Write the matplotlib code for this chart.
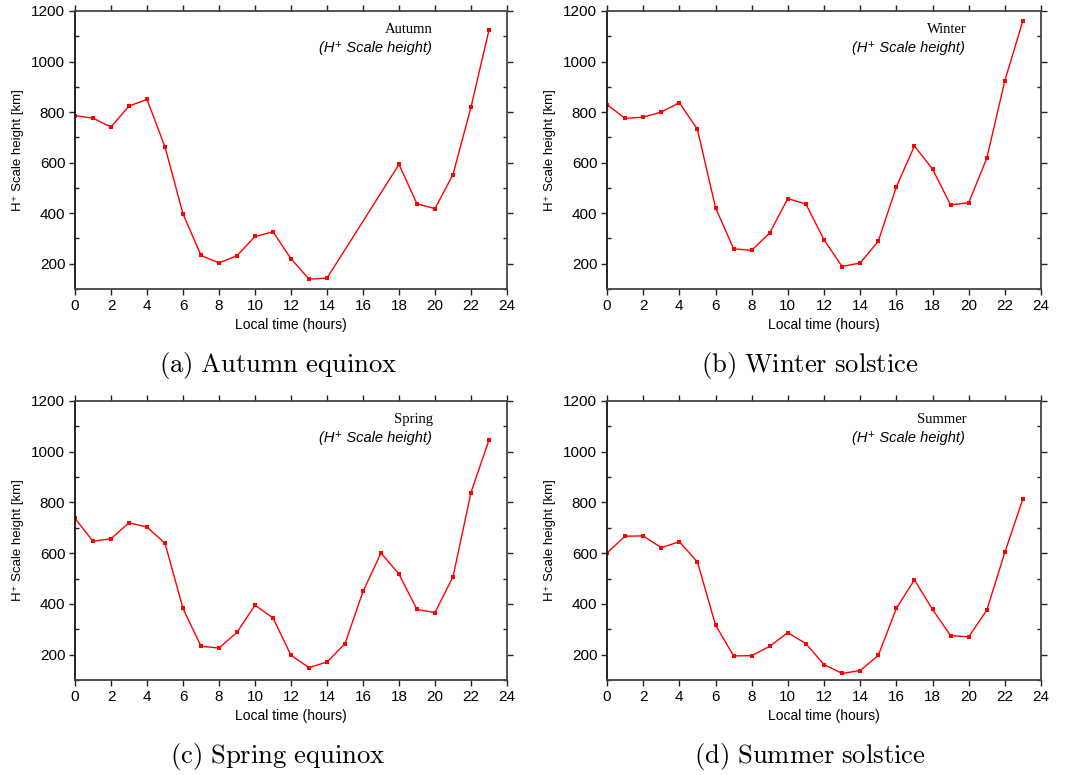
import matplotlib
matplotlib.use("Agg")
import matplotlib.pyplot as plt
from matplotlib.ticker import MultipleLocator

plt.rcParams['mathtext.fontset'] = 'cm'
plt.rcParams['font.family'] = ['Liberation Sans', 'DejaVu Sans']

hours = list(range(24))
autumn_hours = [0, 1, 2, 3, 4, 5, 6, 7, 8, 9, 10, 11, 12, 13, 14, 18, 19, 20, 21, 22, 23]
autumn = [786, 776, 741, 824, 850, 662, 397, 233, 203, 232, 308, 326, 220, 139, 143,
          593, 437, 418, 553, 820, 1125]
winter = [830, 775, 780, 800, 837, 732, 422, 259, 253, 322, 458, 436, 295, 189, 203,
          289, 504, 666, 575, 433, 441, 617, 924, 1162]
spring = [737, 647, 657, 720, 703, 639, 382, 233, 226, 288, 395, 345, 197, 149, 171,
          243, 449, 601, 517, 378, 366, 507, 839, 1047]
summer = [601, 667, 668, 622, 645, 566, 317, 195, 196, 233, 287, 243, 161, 126, 137,
          197, 382, 495, 378, 275, 270, 375, 603, 814]

season_names = ["Autumn", "Winter", "Spring", "Summer"]
captions = ["(a)\\ Autumn\\ equinox", "(b)\\ Winter\\ solstice",
            "(c)\\ Spring\\ equinox", "(d)\\ Summer\\ solstice"]
xs_list = [autumn_hours, hours, hours, hours]
ys_list = [autumn, winter, spring, summer]

fig = plt.figure(figsize=(10.74, 7.75), dpi=100)
W, H = 1074, 775
# axes boxes in pixels: left, top, right, bottom
boxes = [(75, 11, 507, 289), (607, 11, 1041, 289),
         (75, 401, 507, 680), (607, 401, 1041, 680)]
cap_pos = [(278, 366), (810, 366), (278, 756), (810, 756)]

for i in range(4):
    l, t, r, b = boxes[i]
    ax = fig.add_axes([l / W, 1 - b / H, (r - l) / W, (b - t) / H])
    ax.plot(xs_list[i], ys_list[i], color='#ff0000', lw=1.0, marker='s',
            markersize=2.8, markeredgewidth=0)
    ax.set_xlim(0, 24)
    ax.set_ylim(100, 1200)
    ax.xaxis.set_major_locator(MultipleLocator(2))
    ax.yaxis.set_major_locator(MultipleLocator(200))
    ax.yaxis.set_minor_locator(MultipleLocator(100))
    ax.tick_params(which='both', top=True, right=True,
                   labelsize=11, width=1.0, color='#222222')
    ax.tick_params(which='major', direction='out', length=4, pad=3)
    ax.tick_params(which='minor', direction='in', length=3)
    for s in ax.spines.values():
        s.set_linewidth(1.3)
        s.set_color('#444444')
    ax.spines['left'].set_color('#111111')
    ax.set_xlabel("Local time (hours)", fontsize=10, labelpad=4)
    ax.set_ylabel("H\u207a Scale height [km]", fontsize=9.5, labelpad=5)
    ax.text(0.828, 0.935, season_names[i], transform=ax.transAxes, ha='right',
            va='center', fontsize=10.5, family=['Liberation Serif', 'DejaVu Serif'])
    ax.text(0.825, 0.868, "(H\u207a Scale height)", transform=ax.transAxes,
            ha='right', va='center', fontsize=10.5, style='italic')
    cx, cy = cap_pos[i]
    fig.text(cx / W, 1 - cy / H, "$\\mathrm{" + captions[i] + "}$",
             ha='center', va='center', fontsize=19.2)

fig.savefig("out.png", dpi=100)
